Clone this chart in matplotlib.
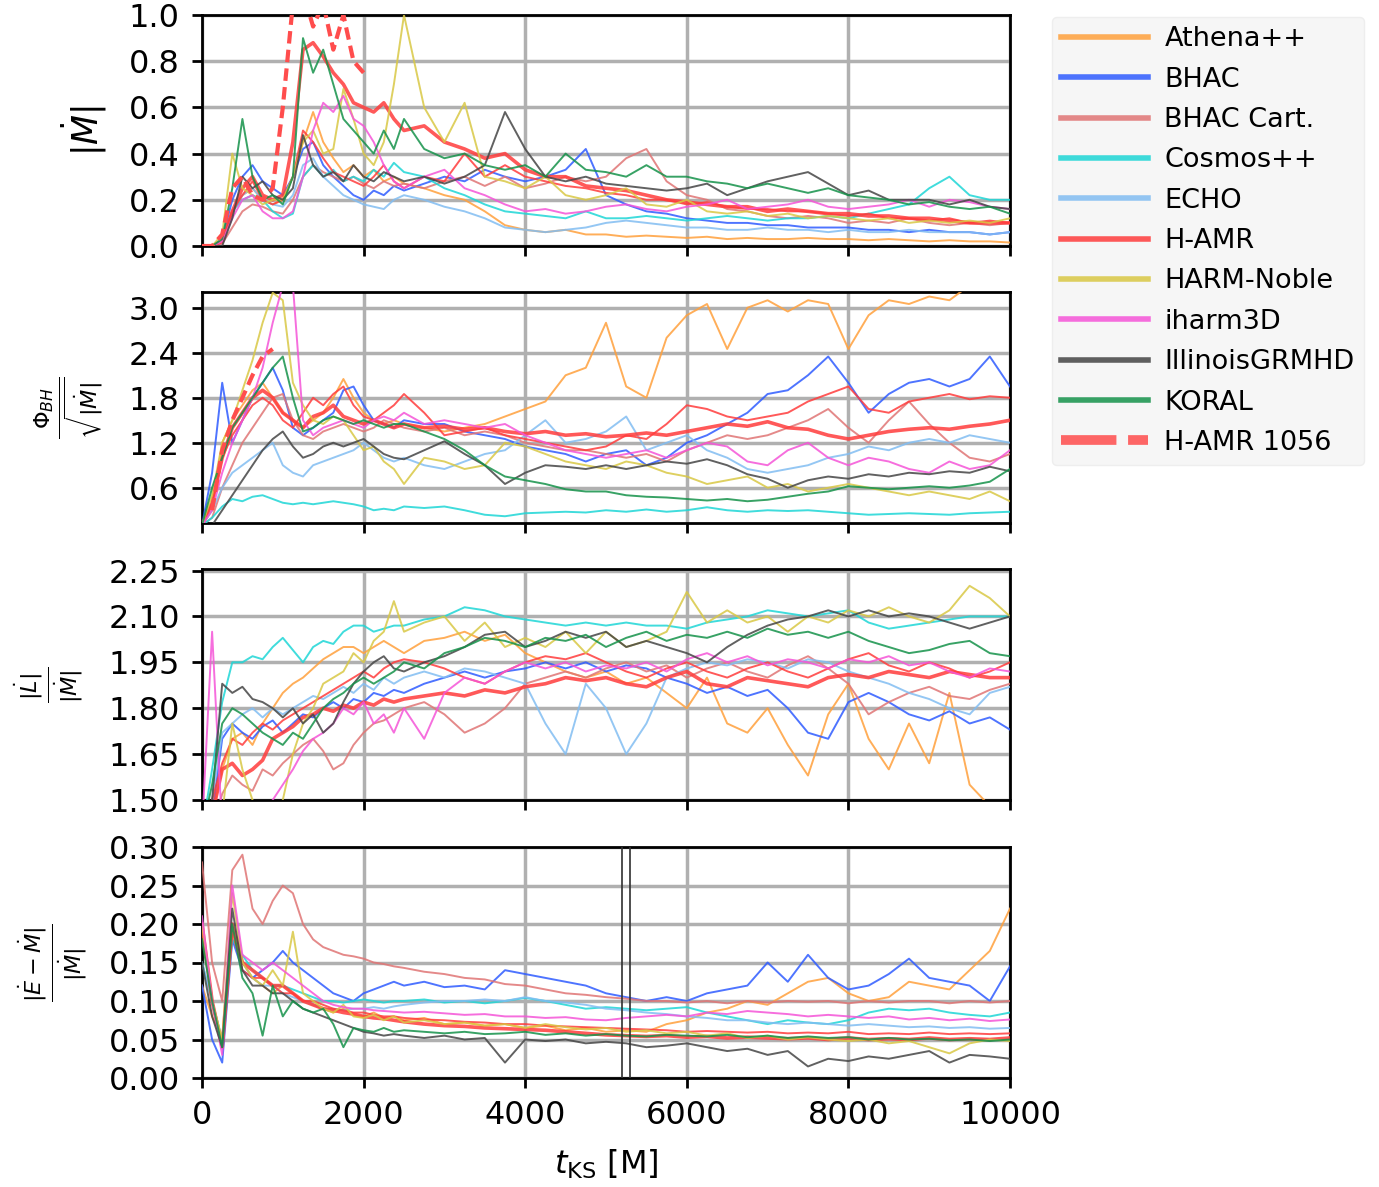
import matplotlib
matplotlib.use("Agg")
import matplotlib.pyplot as plt
import numpy as np

# time grid [M]: finer sampling over the early transient
t_ks = np.concatenate([np.arange(0, 2500, 125), np.arange(2500, 10001, 250)])
t_1056_mdot = t_ks[:17]
t_1056_phi = t_ks[1:8]

codes = ["Athena++", "BHAC", "BHAC Cart.", "Cosmos++", "ECHO", "H-AMR",
         "HARM-Noble", "iharm3D", "IllinoisGRMHD", "KORAL"]
colors = ["#ffa03c", "#2f5cff", "#e07575", "#1ed6d6", "#82bdf2", "#ff3c3c",
          "#d9c845", "#f555d8", "#454545", "#15924a"]

# ---- |Mdot| ----
athena_mdot = [0, 0, 0.02, 0.15, 0.22, 0.25, 0.2, 0.18, 0.2, 0.3,
               0.45, 0.58, 0.45, 0.38, 0.32, 0.35, 0.3, 0.33, 0.28, 0.3,
               0.27, 0.25, 0.22, 0.2, 0.15, 0.09, 0.07, 0.06, 0.07, 0.05,
               0.05, 0.04, 0.045, 0.04, 0.035, 0.04, 0.03, 0.035, 0.03, 0.03,
               0.035, 0.03, 0.03, 0.025, 0.03, 0.025, 0.02, 0.025, 0.02, 0.02,
               0.015]
bhac_mdot = [0, 0, 0.03, 0.2, 0.3, 0.35, 0.28, 0.25, 0.22, 0.3,
             0.42, 0.45, 0.35, 0.3, 0.26, 0.22, 0.2, 0.24, 0.22, 0.26,
             0.24, 0.27, 0.3, 0.28, 0.33, 0.3, 0.28, 0.3, 0.33, 0.42,
             0.22, 0.18, 0.15, 0.14, 0.12, 0.11, 0.1, 0.1, 0.09, 0.09,
             0.08, 0.08, 0.08, 0.07, 0.07, 0.06, 0.07, 0.06, 0.06, 0.05,
             0.06]
bhaccart_mdot = [0, 0, 0.01, 0.08, 0.15, 0.18, 0.17, 0.15, 0.14, 0.2,
                 0.3, 0.35, 0.32, 0.3, 0.28, 0.3, 0.27, 0.25, 0.28, 0.26,
                 0.27, 0.25, 0.28, 0.3, 0.26, 0.3, 0.25, 0.27, 0.3, 0.28,
                 0.3, 0.38, 0.42, 0.28, 0.22, 0.2, 0.16, 0.15, 0.13, 0.12,
                 0.13, 0.12, 0.1, 0.11, 0.1, 0.12, 0.1, 0.09, 0.1, 0.09,
                 0.1]
cosmos_mdot = [0, 0, 0.02, 0.15, 0.2, 0.22, 0.2, 0.15, 0.12, 0.14,
               0.3, 0.35, 0.3, 0.33, 0.28, 0.3, 0.28, 0.33, 0.3, 0.36,
               0.32, 0.3, 0.25, 0.22, 0.18, 0.15, 0.14, 0.13, 0.12, 0.15,
               0.12, 0.12, 0.13, 0.12, 0.11, 0.12, 0.13, 0.12, 0.11, 0.12,
               0.12, 0.13, 0.12, 0.14, 0.16, 0.18, 0.25, 0.3, 0.22, 0.2,
               0.2]
echo_mdot = [0, 0, 0.02, 0.15, 0.22, 0.25, 0.2, 0.18, 0.17, 0.22,
             0.35, 0.38, 0.3, 0.26, 0.22, 0.2, 0.18, 0.17, 0.16, 0.2,
             0.22, 0.2, 0.17, 0.15, 0.12, 0.08, 0.07, 0.06, 0.07, 0.08,
             0.1, 0.11, 0.1, 0.09, 0.08, 0.08, 0.07, 0.07, 0.08, 0.07,
             0.07, 0.06, 0.07, 0.06, 0.06, 0.07, 0.06, 0.06, 0.06, 0.05,
             0.06]
hamr_mdot = [0, 0, 0.02, 0.15, 0.25, 0.3, 0.22, 0.2, 0.22, 0.45,
             0.85, 0.88, 0.82, 0.75, 0.7, 0.62, 0.6, 0.58, 0.62, 0.55,
             0.5, 0.52, 0.45, 0.42, 0.38, 0.4, 0.33, 0.3, 0.3, 0.26,
             0.25, 0.24, 0.22, 0.2, 0.19, 0.18, 0.17, 0.17, 0.15, 0.16,
             0.15, 0.14, 0.14, 0.13, 0.13, 0.12, 0.12, 0.11, 0.1, 0.1,
             0.1]
hamr2_mdot = [0, 0, 0.02, 0.15, 0.22, 0.28, 0.2, 0.18, 0.2, 0.3,
              0.5, 0.45, 0.38, 0.32, 0.3, 0.28, 0.26, 0.3, 0.35, 0.28,
              0.25, 0.3, 0.28, 0.4, 0.3, 0.35, 0.3, 0.28, 0.26, 0.25,
              0.23, 0.22, 0.2, 0.2, 0.18, 0.19, 0.17, 0.16, 0.16, 0.15,
              0.15, 0.14, 0.13, 0.14, 0.12, 0.12, 0.11, 0.12, 0.1, 0.11,
              0.1]
harm_mdot = [0, 0, 0.05, 0.4, 0.25, 0.22, 0.18, 0.2, 0.2, 0.3,
             0.45, 0.5, 0.4, 0.42, 0.68, 0.55, 0.4, 0.35, 0.45, 0.7,
             1.0, 0.6, 0.45, 0.62, 0.3, 0.28, 0.25, 0.3, 0.22, 0.2,
             0.22, 0.25, 0.18, 0.17, 0.2, 0.15, 0.14, 0.15, 0.13, 0.14,
             0.12, 0.13, 0.12, 0.11, 0.12, 0.1, 0.11, 0.1, 0.11, 0.1,
             0.12]
iharm_mdot = [0, 0, 0.02, 0.12, 0.2, 0.22, 0.15, 0.12, 0.12, 0.15,
              0.3, 0.5, 0.62, 0.58, 0.65, 0.55, 0.52, 0.45, 0.35, 0.28,
              0.25, 0.3, 0.33, 0.25, 0.22, 0.18, 0.15, 0.16, 0.14, 0.15,
              0.17, 0.18, 0.16, 0.15, 0.17, 0.18, 0.2, 0.16, 0.17, 0.18,
              0.2, 0.17, 0.16, 0.17, 0.18, 0.2, 0.17, 0.2, 0.19, 0.17,
              0.16]
illinois_mdot = [0, 0, 0, 0.12, 0.3, 0.25, 0.28, 0.22, 0.2, 0.25,
                 0.48, 0.35, 0.3, 0.32, 0.28, 0.35, 0.3, 0.28, 0.32, 0.3,
                 0.28, 0.3, 0.27, 0.3, 0.35, 0.58, 0.42, 0.3, 0.28, 0.3,
                 0.27, 0.26, 0.25, 0.24, 0.25, 0.27, 0.22, 0.25, 0.28, 0.3,
                 0.32, 0.27, 0.22, 0.24, 0.2, 0.2, 0.2, 0.18, 0.2, 0.17,
                 0.16]
koral_mdot = [0, 0, 0.03, 0.25, 0.55, 0.3, 0.2, 0.22, 0.18, 0.3,
              0.9, 0.75, 0.85, 0.7, 0.55, 0.5, 0.45, 0.4, 0.5, 0.42,
              0.55, 0.42, 0.38, 0.4, 0.35, 0.33, 0.35, 0.3, 0.4, 0.33,
              0.32, 0.3, 0.35, 0.3, 0.3, 0.28, 0.27, 0.25, 0.27, 0.25,
              0.23, 0.25, 0.22, 0.21, 0.2, 0.18, 0.19, 0.17, 0.16, 0.17,
              0.14]
hamr1056_mdot = [0, 0, 0.05, 0.25, 0.3, 0.22, 0.2, 0.25, 0.6, 1.05,
                 1.1, 0.95, 1.05, 0.85, 1.0, 0.8, 0.75]

# ---- Phi_BH / sqrt(|Mdot|) ----
athena_phi = [0.1, 0.3, 1.2, 1.5, 1.7, 1.9, 2.0, 1.8, 1.6, 1.5,
              1.4, 1.5, 1.6, 1.8, 2.05, 1.8, 1.6, 1.5, 1.45, 1.5,
              1.45, 1.4, 1.35, 1.4, 1.45, 1.55, 1.65, 1.75, 2.1, 2.2,
              2.8, 1.95, 1.8, 2.6, 2.9, 3.05, 2.45, 3.0, 3.1, 2.95,
              3.1, 3.05, 2.45, 2.9, 3.1, 3.05, 3.15, 3.1, 3.3, 3.4,
              3.4]
bhac_phi = [0.1, 0.8, 2.0, 1.2, 1.5, 1.8, 2.0, 2.2, 1.9, 1.4,
            1.3, 1.4, 1.5, 1.6, 1.9, 1.95, 1.7, 1.5, 1.45, 1.4,
            1.5, 1.45, 1.45, 1.35, 1.3, 1.25, 1.15, 1.1, 1.05, 0.95,
            1.05, 1.1, 0.9, 1.0, 1.2, 1.3, 1.45, 1.6, 1.85, 1.9,
            2.1, 2.35, 2.0, 1.6, 1.85, 2.0, 2.05, 1.95, 2.05, 2.35,
            1.95]
bhaccart_phi = [0.1, 0.2, 0.6, 0.9, 1.2, 1.4, 1.6, 1.8, 1.85, 1.5,
                1.3, 1.25, 1.35, 1.4, 1.45, 1.4, 1.35, 1.4, 1.5, 1.45,
                1.4, 1.35, 1.4, 1.3, 1.35, 1.3, 1.2, 1.15, 1.1, 1.1,
                1.05, 1.0, 1.05, 0.95, 1.1, 1.2, 1.3, 1.25, 1.3, 1.4,
                1.5, 1.65, 1.4, 1.2, 1.5, 1.75, 1.45, 1.2, 1.0, 0.95,
                1.05]
cosmos_phi = [0.1, 0.2, 0.35, 0.45, 0.42, 0.48, 0.5, 0.45, 0.4, 0.38,
              0.4, 0.38, 0.4, 0.42, 0.4, 0.38, 0.35, 0.3, 0.32, 0.3,
              0.35, 0.33, 0.35, 0.3, 0.24, 0.22, 0.26, 0.27, 0.28, 0.27,
              0.3, 0.28, 0.31, 0.28, 0.3, 0.34, 0.3, 0.28, 0.3, 0.29,
              0.3, 0.28, 0.26, 0.24, 0.25, 0.26, 0.25, 0.24, 0.26, 0.27,
              0.28]
echo_phi = [0.1, 0.3, 0.6, 0.8, 0.9, 1.0, 1.1, 1.2, 0.9, 0.8,
            0.75, 0.9, 0.95, 1.0, 1.05, 1.1, 1.2, 1.1, 1.0, 0.95,
            1.0, 0.9, 0.85, 0.95, 1.05, 1.1, 1.3, 1.5, 1.2, 1.25,
            1.35, 1.55, 1.1, 1.2, 1.3, 1.1, 1.0, 0.85, 0.8, 0.85,
            0.9, 1.0, 1.05, 1.15, 1.1, 1.2, 1.25, 1.2, 1.3, 1.25,
            1.2]
hamr_phi = [0.1, 0.4, 1.0, 1.4, 1.6, 1.8, 1.9, 1.8, 1.6, 1.5,
            1.4, 1.55, 1.6, 1.7, 1.55, 1.5, 1.45, 1.5, 1.45, 1.4,
            1.45, 1.4, 1.42, 1.38, 1.4, 1.35, 1.32, 1.35, 1.3, 1.32,
            1.28, 1.3, 1.33, 1.3, 1.35, 1.4, 1.45, 1.42, 1.48, 1.4,
            1.38, 1.3, 1.25, 1.3, 1.35, 1.38, 1.4, 1.38, 1.42, 1.45,
            1.5]
hamr2_phi = [0.1, 0.4, 1.0, 1.3, 1.5, 1.7, 1.8, 1.7, 1.5, 1.4,
             1.6, 1.8, 1.7, 1.85, 1.95, 1.7, 1.55, 1.5, 1.6, 1.7,
             1.85, 1.6, 1.3, 1.35, 1.4, 1.3, 1.25, 1.2, 1.15, 1.1,
             1.15, 1.3, 1.25, 1.45, 1.7, 1.65, 1.55, 1.5, 1.55, 1.6,
             1.75, 1.85, 1.95, 1.65, 1.6, 1.75, 1.8, 1.85, 1.78, 1.82,
             1.8]
harm_phi = [0.1, 0.5, 1.2, 1.5, 1.9, 2.3, 2.8, 3.2, 3.1, 2.0,
            1.7, 1.5, 1.45, 1.55, 1.5, 1.3, 1.1, 1.15, 0.95, 0.85,
            0.65, 1.0, 0.95, 0.85, 0.9, 1.2, 1.15, 1.05, 0.95, 0.9,
            0.85, 0.95, 0.9, 0.8, 0.75, 0.65, 0.7, 0.75, 0.6, 0.65,
            0.55, 0.6, 0.65, 0.6, 0.55, 0.5, 0.55, 0.5, 0.45, 0.55,
            0.42]
iharm_phi = [0.1, 0.3, 0.8, 1.2, 1.5, 1.8, 2.2, 2.8, 3.3, 3.3,
             1.5, 1.3, 1.4, 1.45, 1.5, 1.45, 1.4, 1.5, 1.55, 1.5,
             1.6, 1.45, 1.5, 1.45, 1.4, 1.45, 1.3, 1.2, 1.1, 1.05,
             1.0, 1.05, 1.1, 1.0, 1.1, 1.2, 1.15, 0.95, 0.9, 1.1,
             1.2, 1.0, 0.9, 1.0, 0.95, 0.85, 0.8, 0.95, 0.85, 0.9,
             1.1]
illinois_phi = [0.1, 0.1, 0.3, 0.5, 0.7, 0.9, 1.1, 1.25, 1.35, 1.15,
                1.0, 1.05, 1.15, 1.2, 1.15, 1.2, 1.25, 1.15, 1.05, 1.0,
                0.98, 1.1, 1.22, 1.05, 0.9, 0.65, 0.8, 0.9, 0.88, 0.85,
                0.9, 0.85, 0.9, 0.95, 0.92, 0.98, 0.9, 0.78, 0.72, 0.6,
                0.7, 0.75, 0.72, 0.78, 0.75, 0.8, 0.78, 0.82, 0.8, 0.88,
                0.82]
koral_phi = [0.1, 0.6, 1.0, 1.4, 1.6, 1.8, 2.0, 2.2, 2.35, 1.8,
             1.35, 1.4, 1.5, 1.55, 1.5, 1.45, 1.5, 1.45, 1.4, 1.45,
             1.45, 1.35, 1.25, 1.1, 0.9, 0.75, 0.7, 0.65, 0.58, 0.55,
             0.55, 0.5, 0.48, 0.47, 0.45, 0.43, 0.45, 0.42, 0.44, 0.48,
             0.52, 0.55, 0.62, 0.6, 0.58, 0.6, 0.62, 0.6, 0.63, 0.68,
             0.85]
hamr1056_phi = [0.3, 1.1, 1.5, 1.8, 2.1, 2.35, 2.45]

# ---- |Ldot| / |Mdot| ----
athena_l = [1.4, 1.45, 1.6, 1.7, 1.72, 1.68, 1.75, 1.8, 1.85, 1.88,
            1.9, 1.93, 1.96, 1.98, 2.0, 2.0, 1.98, 2.0, 2.02, 2.0,
            1.98, 2.02, 2.03, 2.05, 2.02, 2.04, 1.98, 1.95, 1.92, 1.9,
            1.92, 1.88, 1.9, 1.85, 1.8, 1.9, 1.75, 1.72, 1.8, 1.68,
            1.58, 1.78, 1.88, 1.7, 1.6, 1.75, 1.62, 1.85, 1.55, 1.48,
            1.45]
bhac_l = [1.4, 1.45, 1.7, 1.75, 1.72, 1.7, 1.74, 1.76, 1.72, 1.75,
          1.78, 1.77, 1.8, 1.82, 1.8, 1.83, 1.82, 1.85, 1.84, 1.86,
          1.85, 1.88, 1.9, 1.92, 1.9, 1.92, 1.93, 1.95, 1.93, 1.95,
          1.92, 1.94, 1.93, 1.9, 1.88, 1.85, 1.87, 1.84, 1.86, 1.8,
          1.72, 1.7, 1.82, 1.85, 1.82, 1.78, 1.76, 1.79, 1.75, 1.77,
          1.73]
bhaccart_l = [1.4, 1.4, 1.52, 1.58, 1.55, 1.53, 1.6, 1.58, 1.62, 1.65,
              1.68, 1.7, 1.66, 1.6, 1.62, 1.68, 1.72, 1.75, 1.76, 1.78,
              1.8, 1.82, 1.78, 1.72, 1.75, 1.8, 1.88, 1.9, 1.92, 1.9,
              1.93, 1.95, 1.92, 1.94, 1.9, 1.93, 1.95, 1.92, 1.9, 1.94,
              1.97, 1.93, 1.88, 1.78, 1.82, 1.85, 1.87, 1.84, 1.83, 1.86,
              1.88]
cosmos_l = [1.4, 1.6, 1.82, 1.95, 1.95, 1.97, 1.96, 2.0, 2.03, 1.99,
            1.95, 2.0, 2.02, 2.01, 2.05, 2.07, 2.07, 2.05, 2.06, 2.07,
            2.07, 2.09, 2.1, 2.13, 2.12, 2.1, 2.09, 2.08, 2.07, 2.08,
            2.07, 2.08, 2.07, 2.07, 2.06, 2.08, 2.09, 2.1, 2.12, 2.11,
            2.1, 2.11, 2.12, 2.08, 2.06, 2.07, 2.08, 2.09, 2.1, 2.1,
            2.1]
echo_l = [1.4, 1.5, 1.72, 1.75, 1.78, 1.8, 1.77, 1.8, 1.78, 1.8,
          1.82, 1.84, 1.83, 1.85, 1.87, 1.85, 1.88, 1.86, 1.9, 1.88,
          1.9, 1.92, 1.9, 1.93, 1.92, 1.9, 1.88, 1.75, 1.65, 1.88,
          1.8, 1.65, 1.75, 1.9, 1.93, 1.95, 1.94, 1.96, 1.95, 1.93,
          1.96, 1.95, 1.92, 1.9, 1.88, 1.85, 1.83, 1.8, 1.78, 1.85,
          1.87]
hamr_l = [1.4, 1.45, 1.6, 1.62, 1.58, 1.6, 1.63, 1.7, 1.72, 1.74,
          1.77, 1.78, 1.8, 1.79, 1.81, 1.8, 1.82, 1.81, 1.83, 1.82,
          1.83, 1.84, 1.85, 1.84, 1.86, 1.85, 1.87, 1.88, 1.9, 1.89,
          1.9, 1.88, 1.87, 1.9, 1.92, 1.88, 1.87, 1.9, 1.89, 1.88,
          1.87, 1.9, 1.91, 1.9, 1.92, 1.91, 1.9, 1.92, 1.91, 1.9,
          1.9]
hamr2_l = [1.4, 1.5, 1.62, 1.7, 1.68, 1.72, 1.75, 1.73, 1.76, 1.78,
           1.8, 1.82, 1.84, 1.86, 1.88, 1.9, 1.92, 1.9, 1.93, 1.95,
           1.96, 1.95, 1.93, 1.9, 1.88, 1.92, 1.95, 1.97, 1.96, 1.98,
           1.95, 1.92, 1.9, 1.93, 1.95, 1.92, 1.9, 1.93, 1.95, 1.92,
           1.9, 1.93, 1.96, 1.98, 1.94, 1.92, 1.95, 1.93, 1.9, 1.92,
           1.95]
harm_l = [1.4, 1.4, 1.45, 1.75, 1.6, 1.5, 1.45, 1.45, 1.5, 1.65,
          1.75, 1.8, 1.88, 1.9, 1.92, 1.98, 1.95, 2.02, 2.05, 2.15,
          2.05, 2.08, 2.1, 2.02, 2.08, 2.0, 2.03, 2.0, 2.05, 1.98,
          2.05, 2.0, 2.02, 2.05, 2.18, 2.08, 2.12, 2.08, 2.1, 2.05,
          2.1, 2.08, 2.12, 2.1, 2.13, 2.1, 2.08, 2.12, 2.2, 2.16,
          2.1]
iharm_l = [1.4, 2.05, 1.4, 1.4, 1.4, 1.4, 1.45, 1.5, 1.55, 1.6,
           1.66, 1.7, 1.72, 1.75, 1.8, 1.78, 1.82, 1.75, 1.78, 1.72,
           1.8, 1.7, 1.85, 1.9, 1.88, 1.92, 1.95, 1.93, 1.95, 1.92,
           1.94, 1.93, 1.95, 1.92, 1.96, 1.98, 1.95, 1.97, 1.94, 1.96,
           1.95, 1.93, 1.96, 1.95, 1.97, 1.94, 1.95, 1.92, 1.9, 1.93,
           1.92]
illinois_l = [1.4, 1.5, 1.88, 1.85, 1.87, 1.83, 1.82, 1.8, 1.77, 1.8,
              1.75, 1.78, 1.72, 1.75, 1.82, 1.88, 1.92, 1.95, 1.97, 1.93,
              1.92, 1.95, 1.97, 2.0, 2.04, 2.05, 2.0, 2.02, 2.05, 2.03,
              2.05, 2.0, 2.02, 2.0, 1.98, 1.95, 2.0, 2.04, 2.07, 2.09,
              2.1, 2.12, 2.1, 2.12, 2.1, 2.11, 2.1, 2.08, 2.06, 2.08,
              2.1]
koral_l = [1.4, 1.55, 1.75, 1.8, 1.78, 1.75, 1.72, 1.7, 1.68, 1.72,
           1.7, 1.75, 1.8, 1.83, 1.85, 1.88, 1.9, 1.88, 1.9, 1.92,
           1.95, 1.93, 1.98, 2.0, 2.03, 2.02, 2.0, 2.03, 2.02, 2.04,
           2.0, 2.03, 2.05, 2.02, 2.04, 2.03, 2.05, 2.03, 2.06, 2.04,
           2.05, 2.03, 2.05, 2.02, 2.0, 1.98, 1.99, 2.01, 2.02, 1.98,
           1.97]

# ---- |Edot - Mdot| / |Mdot| ----
athena_e = [0.12, 0.08, 0.05, 0.2, 0.15, 0.13, 0.12, 0.11, 0.12, 0.11,
            0.1, 0.095, 0.09, 0.085, 0.09, 0.082, 0.08, 0.085, 0.078, 0.08,
            0.075, 0.078, 0.07, 0.072, 0.068, 0.07, 0.065, 0.068, 0.062, 0.065,
            0.06, 0.062, 0.06, 0.07, 0.075, 0.085, 0.09, 0.1, 0.095, 0.11,
            0.125, 0.13, 0.11, 0.1, 0.105, 0.125, 0.12, 0.115, 0.14, 0.165,
            0.22]
bhac_e = [0.12, 0.05, 0.02, 0.18, 0.14, 0.13, 0.14, 0.15, 0.165, 0.15,
          0.14, 0.13, 0.12, 0.11, 0.105, 0.1, 0.11, 0.115, 0.12, 0.125,
          0.12, 0.125, 0.118, 0.12, 0.115, 0.14, 0.135, 0.13, 0.125, 0.12,
          0.11, 0.105, 0.1, 0.105, 0.1, 0.11, 0.115, 0.12, 0.15, 0.125,
          0.16, 0.13, 0.115, 0.12, 0.135, 0.155, 0.13, 0.125, 0.12, 0.1,
          0.145]
bhaccart_e = [0.28, 0.15, 0.1, 0.27, 0.29, 0.22, 0.2, 0.23, 0.25, 0.24,
              0.2, 0.18, 0.17, 0.165, 0.16, 0.158, 0.155, 0.15, 0.148, 0.145,
              0.143, 0.138, 0.135, 0.13, 0.128, 0.122, 0.12, 0.115, 0.11, 0.108,
              0.105, 0.103, 0.1, 0.1, 0.098, 0.1, 0.097, 0.1, 0.098, 0.1,
              0.099, 0.1, 0.097, 0.1, 0.098, 0.1, 0.1, 0.097, 0.1, 0.098,
              0.1]
cosmos_e = [0.15, 0.1, 0.05, 0.18, 0.16, 0.14, 0.13, 0.12, 0.12, 0.115,
            0.11, 0.105, 0.1, 0.1, 0.098, 0.1, 0.102, 0.1, 0.098, 0.1,
            0.1, 0.102, 0.098, 0.1, 0.097, 0.1, 0.104, 0.1, 0.095, 0.09,
            0.092, 0.09, 0.088, 0.09, 0.092, 0.085, 0.08, 0.075, 0.07, 0.075,
            0.072, 0.07, 0.075, 0.085, 0.09, 0.088, 0.09, 0.085, 0.082, 0.08,
            0.085]
echo_e = [0.15, 0.1, 0.04, 0.2, 0.15, 0.13, 0.12, 0.12, 0.11, 0.105,
          0.1, 0.095, 0.09, 0.09, 0.088, 0.09, 0.09, 0.092, 0.09, 0.093,
          0.095, 0.098, 0.1, 0.1, 0.102, 0.1, 0.105, 0.1, 0.098, 0.095,
          0.09, 0.088, 0.085, 0.083, 0.08, 0.078, 0.075, 0.075, 0.072, 0.07,
          0.072, 0.07, 0.068, 0.07, 0.068, 0.066, 0.067, 0.065, 0.066, 0.064,
          0.065]
hamr_e = [0.2, 0.1, 0.04, 0.2, 0.15, 0.14, 0.13, 0.12, 0.12, 0.11,
          0.1, 0.095, 0.09, 0.088, 0.085, 0.083, 0.08, 0.078, 0.077, 0.075,
          0.073, 0.07, 0.068, 0.067, 0.065, 0.064, 0.063, 0.062, 0.06, 0.058,
          0.056, 0.055, 0.054, 0.055, 0.053, 0.054, 0.052, 0.053, 0.052, 0.051,
          0.052, 0.05, 0.052, 0.05, 0.051, 0.05, 0.052, 0.05, 0.051, 0.05,
          0.052]
hamr2_e = [0.2, 0.1, 0.04, 0.19, 0.14, 0.13, 0.13, 0.12, 0.11, 0.11,
           0.1, 0.1, 0.095, 0.09, 0.088, 0.085, 0.085, 0.082, 0.08, 0.08,
           0.078, 0.076, 0.075, 0.073, 0.072, 0.07, 0.07, 0.068, 0.067, 0.066,
           0.065, 0.064, 0.063, 0.062, 0.06, 0.061, 0.06, 0.059, 0.06, 0.058,
           0.059, 0.058, 0.06, 0.057, 0.058, 0.057, 0.059, 0.057, 0.058, 0.057,
           0.058]
harm_e = [0.2, 0.1, 0.05, 0.24, 0.15, 0.13, 0.12, 0.14, 0.12, 0.19,
          0.11, 0.1, 0.09, 0.085, 0.095, 0.08, 0.078, 0.082, 0.075, 0.08,
          0.072, 0.075, 0.07, 0.072, 0.068, 0.07, 0.065, 0.07, 0.066, 0.063,
          0.065, 0.06, 0.062, 0.058, 0.06, 0.055, 0.058, 0.052, 0.055, 0.05,
          0.053, 0.05, 0.048, 0.05, 0.045, 0.048, 0.04, 0.032, 0.045, 0.05,
          0.048]
iharm_e = [0.21, 0.1, 0.03, 0.25, 0.16, 0.15, 0.14, 0.15, 0.14, 0.13,
           0.12, 0.11, 0.1, 0.095, 0.092, 0.09, 0.09, 0.088, 0.087, 0.086,
           0.085, 0.086, 0.084, 0.082, 0.083, 0.08, 0.08, 0.078, 0.079, 0.076,
           0.075, 0.078, 0.08, 0.082, 0.08, 0.085, 0.083, 0.087, 0.085, 0.083,
           0.08, 0.082, 0.08, 0.078, 0.08, 0.076, 0.078, 0.075, 0.077, 0.074,
           0.076]
illinois_e = [0.15, 0.08, 0.04, 0.22, 0.14, 0.12, 0.12, 0.11, 0.11, 0.1,
              0.09, 0.085, 0.08, 0.075, 0.07, 0.065, 0.06, 0.058, 0.055, 0.057,
              0.055, 0.052, 0.055, 0.05, 0.052, 0.02, 0.05, 0.048, 0.05, 0.045,
              0.047, 0.045, 0.04, 0.042, 0.045, 0.04, 0.035, 0.038, 0.03, 0.035,
              0.015, 0.025, 0.022, 0.028, 0.025, 0.03, 0.035, 0.02, 0.03, 0.028,
              0.025]
koral_e = [0.18, 0.1, 0.04, 0.2, 0.13, 0.11, 0.055, 0.12, 0.08, 0.1,
           0.09, 0.085, 0.09, 0.07, 0.04, 0.065, 0.062, 0.06, 0.065, 0.06,
           0.062, 0.06, 0.058, 0.06, 0.057, 0.058, 0.06, 0.056, 0.058, 0.055,
           0.057, 0.055, 0.054, 0.056, 0.055, 0.054, 0.056, 0.053, 0.055, 0.052,
           0.054, 0.052, 0.053, 0.05, 0.052, 0.05, 0.051, 0.049, 0.05, 0.048,
           0.05]
# IllinoisGRMHD glitches in the energy flux
illinois_glitch_t = [5200, 5300]

mdot = [athena_mdot, bhac_mdot, bhaccart_mdot, cosmos_mdot, echo_mdot,
        hamr_mdot, harm_mdot, iharm_mdot, illinois_mdot, koral_mdot]
phi = [athena_phi, bhac_phi, bhaccart_phi, cosmos_phi, echo_phi,
       hamr_phi, harm_phi, iharm_phi, illinois_phi, koral_phi]
ldot = [athena_l, bhac_l, bhaccart_l, cosmos_l, echo_l,
        hamr_l, harm_l, iharm_l, illinois_l, koral_l]
edot = [athena_e, bhac_e, bhaccart_e, cosmos_e, echo_e,
        hamr_e, harm_e, iharm_e, illinois_e, koral_e]
hamr2 = [hamr2_mdot, hamr2_phi, hamr2_l, hamr2_e]

plt.rcParams["font.family"] = "DejaVu Sans"
plt.rcParams["mathtext.fontset"] = "dejavusans"

fig = plt.figure(figsize=(13.79, 11.87), dpi=100)
left, width = 202 / 1379, 808 / 1379
tops = [15, 292, 569, 847]
axes = [fig.add_axes([left, 1 - (tp + 231) / 1187, width, 231 / 1187]) for tp in tops]

panels = [mdot, phi, ldot, edot]
ylims = [(0, 1.0), (0.13, 3.21), (1.5, 2.255), (0, 0.3)]
yticks = [[0, 0.2, 0.4, 0.6, 0.8, 1.0],
          [0.6, 1.2, 1.8, 2.4, 3.0],
          [1.5, 1.65, 1.8, 1.95, 2.1, 2.25],
          [0, 0.05, 0.1, 0.15, 0.2, 0.25, 0.3]]
yfmt = ["%.1f", "%.1f", "%.2f", "%.2f"]
ylabels = [r"$|\dot{M}|$",
           r"$\frac{\Phi_{BH}}{\sqrt{|\dot{M}|}}$",
           r"$\frac{|\dot{L}|}{|\dot{M}|}$",
           r"$\frac{|\dot{E}-\dot{M}|}{|\dot{M}|}$"]
label_x = [-0.115, -0.12, -0.145, -0.14]

for k, ax in enumerate(axes):
    for i, name in enumerate(codes):
        lw = 2.6 if name == "H-AMR" else 1.4
        ax.plot(t_ks, panels[k][i], color=colors[i], lw=lw, alpha=0.85,
                label=name, zorder=3)
        if name == "H-AMR":
            ax.plot(t_ks, hamr2[k], color=colors[i], lw=1.4, alpha=0.85, zorder=3)
    ax.set_xlim(0, 10000)
    ax.set_ylim(*ylims[k])
    ax.set_yticks(yticks[k])
    ax.set_yticklabels([yfmt[k] % v for v in yticks[k]])
    ax.set_xticks([0, 2000, 4000, 6000, 8000, 10000])
    ax.grid(True, color="#b0b0b0", lw=2.5, zorder=0)
    ax.set_axisbelow(True)
    ax.tick_params(labelsize=23, width=2, length=7, pad=9)
    for sp in ax.spines.values():
        sp.set_linewidth(2)
    ax.set_ylabel(ylabels[k], fontsize=25 if k == 0 else 23)
    ax.yaxis.set_label_coords(label_x[k], 0.5)
    if k < 3:
        ax.tick_params(labelbottom=False)

axes[0].plot(t_1056_mdot, hamr1056_mdot, color="#ff4d4d", lw=3, ls=(0, (3, 1.5)),
             label="H-AMR 1056", zorder=4)
axes[1].plot(t_1056_phi, hamr1056_phi, color="#ff4d4d", lw=3, ls=(0, (3, 1.5)),
             zorder=4)
axes[3].vlines(illinois_glitch_t, 0, 0.3, color="#303030", lw=1.2, zorder=4)

axes[3].set_xlabel(r"$t_{\rm KS}$ [M]", fontsize=23, labelpad=12)

leg = axes[0].legend(loc="upper left", bbox_to_anchor=(1.052, 0.992), borderaxespad=0,
                     fontsize=19.5, handlelength=3.2, handletextpad=0.6,
                     labelspacing=0.53, borderpad=0.35, frameon=True,
                     facecolor="#f6f6f6", edgecolor="#eeeeee", framealpha=1)
for line in leg.get_lines():
    line.set_linewidth(4)
    line.set_alpha(0.85)
dash = leg.get_lines()[-1]
dash.set_linewidth(7)
dash.set_dashes([5.7, 1.2])

fig.savefig("out.png", dpi=100)
